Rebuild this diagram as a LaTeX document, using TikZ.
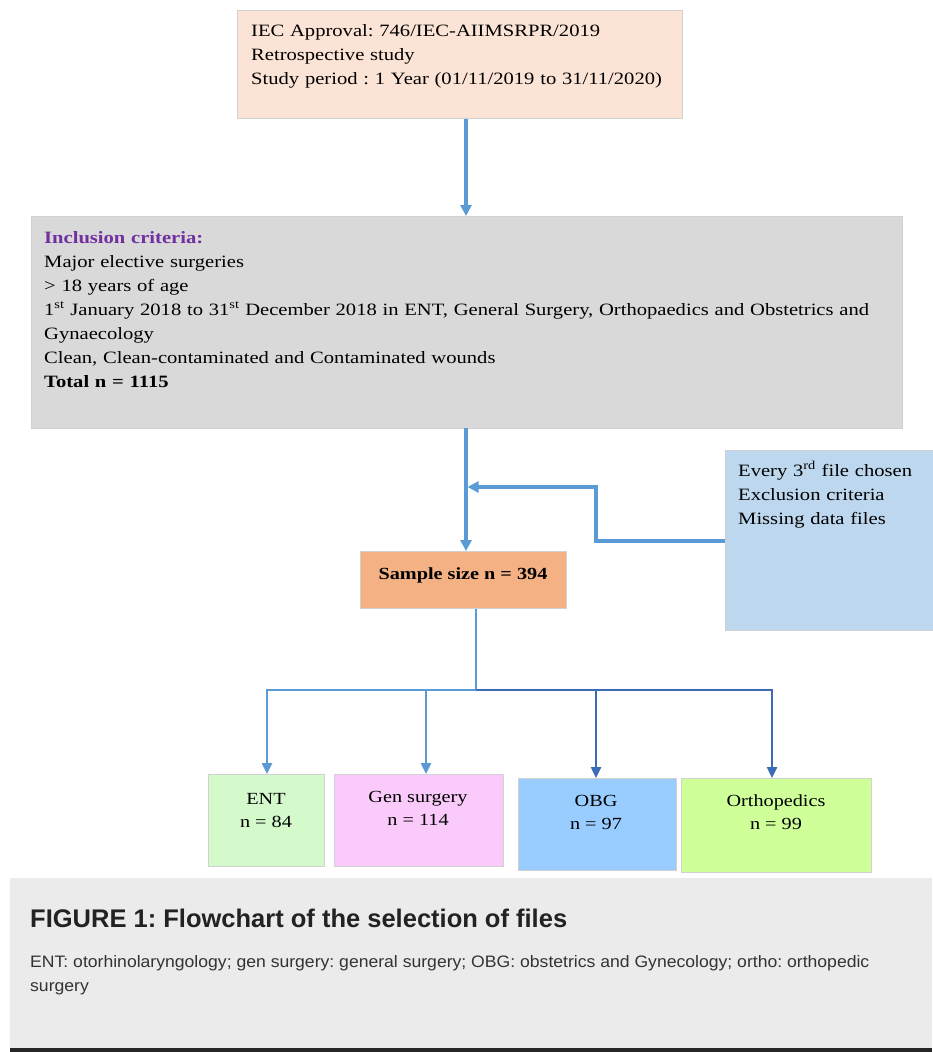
\documentclass[tikz,border=0pt]{standalone}
\usepackage{fontspec}
\setmainfont{Liberation Serif}[FakeStretch=1.19]
\newfontfamily\capfont{Liberation Sans}
\newfontfamily\capbodyfont{Liberation Sans}[FakeStretch=1.06]
\usetikzlibrary{arrows.meta,calc}
\definecolor{peach}{RGB}{251,228,214}
\definecolor{inclgray}{RGB}{217,217,217}
\definecolor{exclblue}{RGB}{189,215,238}
\definecolor{sampleor}{RGB}{244,177,131}
\definecolor{entgreen}{RGB}{212,250,204}
\definecolor{genpink}{RGB}{250,202,250}
\definecolor{obgblue}{RGB}{153,204,255}
\definecolor{orthogreen}{RGB}{206,255,153}
\definecolor{lblue}{RGB}{91,155,213}
\definecolor{dblue}{RGB}{60,108,180}
\definecolor{critpurple}{RGB}{112,48,160}
\definecolor{capbg}{RGB}{235,235,235}
\definecolor{captxt}{RGB}{34,34,34}
\definecolor{capbody}{RGB}{51,51,51}
\begin{document}
\frenchspacing
\begin{tikzpicture}[x=1pt,y=-1pt,
  box/.style={draw=black!18, line width=0.8pt, anchor=north west, inner sep=0pt},
  txt/.style={anchor=base west, inner sep=0pt, align=left, font=\fontsize{17.3}{24}\selectfont},
  ctxt/.style={anchor=base, inner sep=0pt, align=center, font=\fontsize{17}{23}\selectfont},
  conn/.style={draw=lblue, line width=3.2pt, -{Triangle[length=11pt,width=11pt]}},
  connd/.style={draw=dblue, line width=2.4pt, -{Triangle[length=11pt,width=10pt]}},
  connl/.style={draw=lblue, line width=2.4pt, -{Triangle[length=11pt,width=10pt]}},
]
\useasboundingbox (0,0) rectangle (932,1052);
\fill[white] (0,0) rectangle (932,1052);

% boxes
\node[box, fill=peach, minimum width=445pt, minimum height=108pt] (top) at (237,10) {};
\node[box, fill=inclgray, minimum width=871pt, minimum height=212pt] (incl) at (31,216) {};
\node[box, fill=exclblue, minimum width=210pt, minimum height=180pt] (excl) at (725,450) {};
\node[box, fill=sampleor, minimum width=206pt, minimum height=57pt] (sample) at (360,551) {};
\node[box, fill=entgreen, minimum width=116pt, minimum height=92pt] (ent) at (208,774) {};
\node[box, fill=genpink, minimum width=169pt, minimum height=92pt] (gen) at (334,774) {};
\node[box, fill=obgblue, minimum width=158pt, minimum height=92pt] (obg) at (518,778) {};
\node[box, fill=orthogreen, minimum width=190pt, minimum height=94pt] (ortho) at (681,778) {};

% texts
\node[txt, text width=430pt] (toptxt) at (251,36) {IEC Approval: 746/IEC-AIIMSRPR/2019\\Retrospective study\\Study period : 1 Year (01/11/2019 to 31/11/2020)};
\node[txt, text width=860pt] (incltxt) at (44,243) {{\bfseries\color{critpurple}Inclusion criteria:}\\Major elective surgeries\\> 18 years of age\\1\textsuperscript{st} January 2018 to 31\textsuperscript{st} December 2018 in ENT, General Surgery, Orthopaedics and Obstetrics and\\Gynaecology\\Clean, Clean-contaminated and Contaminated wounds\\\textbf{Total n = 1115}};
\node[txt, text width=190pt] (excltxt) at (738,476) {Every 3\textsuperscript{rd} file chosen\\Exclusion criteria\\Missing data files};
\node[ctxt, font=\bfseries\fontsize{17}{23}\selectfont] (sampletxt) at (463,579) {Sample size n = 394};
\node[ctxt] (enttxt) at (266,827) {ENT\\n = 84};
\node[ctxt] (gentxt) at (418,825) {Gen surgery\\n = 114};
\node[ctxt] (obgtxt) at (596,829) {OBG\\n = 97};
\node[ctxt] (orthotxt) at (776,829) {Orthopedics\\n = 99};

% connectors
\draw[conn] (top.south -| 466,0) -- (466,216);
\coordinate (join) at (466,487);
\coordinate (bend) at (596,541);
\draw[conn] (466,428) -- (466,551);
\draw[conn] (excl.west |- bend) -- (bend) |- ($(join)+(1.6,0)$);
\coordinate (br) at (476,690);
\draw[draw=lblue, line width=2.4pt] (br |- sample.south) -- (br);
\draw[connl] (br) -| (ent.north -| 267,0);
\draw[connl] (426,690) -- (426,774);
\draw[connd] (br) -| (772,778);
\draw[connd] (596,690) -- (596,778);

% caption
\fill[capbg] (10,878) rectangle (932,1048);
\fill[black!85] (10,1048) rectangle (932,1052);
\node[anchor=base west, inner sep=0pt, text=captxt, font=\capfont\bfseries\fontsize{25.5}{30}\selectfont] (captitle) at (30,927) {FIGURE 1: Flowchart of the selection of files};
\node[anchor=base west, inner sep=0pt, align=left, text=capbody, font=\capbodyfont\fontsize{16.6}{24}\selectfont] (capbody) at (30,991) {ENT: otorhinolaryngology; gen surgery: general surgery; OBG: obstetrics and Gynecology; ortho: orthopedic\\surgery};
\end{tikzpicture}
\end{document}
